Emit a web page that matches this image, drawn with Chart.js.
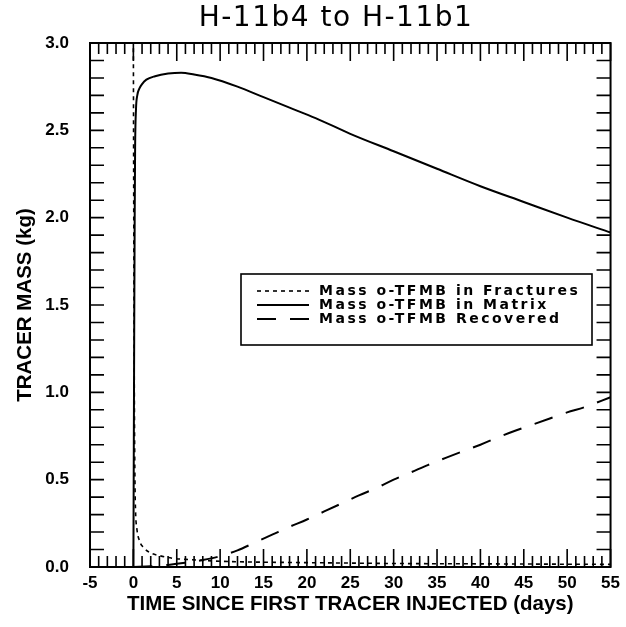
<!DOCTYPE html>
<html>
<head>
<meta charset="utf-8">
<script src="https://cdn.jsdelivr.net/npm/chart.js@4.4.1/dist/chart.umd.min.js"></script>
<style>
  html, body { margin: 0; padding: 0; background: #fff; }
  canvas { display: block; }
</style>
</head>
<body>
<canvas id="c" width="626" height="627"></canvas>
<script>
// Text
const chartTitle = 'H-11b4 to H-11b1';
const xTitle = 'TIME SINCE FIRST TRACER INJECTED (days)';
const yTitle = 'TRACER MASS (kg)';
const seriesNames = ['Mass o-TFMB in Fractures', 'Mass o-TFMB in Matrix', 'Mass o-TFMB Recovered'];

// Mass of tracer left in the fractures (kg)
const fracDays = [0, 0.03, 0.07, 0.12, 0.18, 0.25, 0.4, 0.7, 1.2, 2, 3, 4.5, 6.5, 9, 12, 16, 22, 30, 40, 55];
const fracMass = [2.97, 2.3, 1.5, 0.9, 0.5, 0.32, 0.22, 0.15, 0.11, 0.08, 0.065, 0.05, 0.042, 0.035, 0.03, 0.027, 0.024, 0.02, 0.018, 0.015];

// Mass of tracer diffused into the matrix (kg)
const matrixDays = [0, 0.05, 0.1, 0.15, 0.2, 0.3, 0.45, 0.7, 1.0, 1.5, 2.5, 4, 5.5, 7, 9, 12, 15, 18, 21, 25, 30, 35, 40, 45, 50, 55];
const matrixMass = [0, 0.7, 1.4, 2.0, 2.4, 2.62, 2.7, 2.74, 2.765, 2.79, 2.81, 2.825, 2.83, 2.82, 2.8, 2.75, 2.69, 2.63, 2.57, 2.48, 2.38, 2.28, 2.18, 2.09, 2.0, 1.915];

// Cumulative mass recovered at the pumping well (kg)
const recDays = [0, 2, 4, 6, 8, 10, 12, 14, 16, 18, 20, 22, 24, 26, 28, 30, 32, 34, 36, 38, 40, 42, 44, 46, 48, 50, 52, 55];
const recMass = [0, 0.004, 0.012, 0.024, 0.04, 0.062, 0.095, 0.14, 0.185, 0.23, 0.272, 0.318, 0.364, 0.41, 0.452, 0.5, 0.542, 0.585, 0.625, 0.663, 0.7, 0.742, 0.78, 0.815, 0.85, 0.885, 0.915, 0.972];

// Axis ranges and tick steps
const xRange = [-5, 55];
const yRange = [0, 3];
const xMajorStep = 5, xMinorStep = 1;
const yMajorStep = 0.5, yMinorStep = 0.1;

const toPoints = (xs, ys) => xs.map((d, i) => ({ x: d, y: ys[i] }));

// Frame, inward ticks, title and boxed legend
const framePlugin = {
  id: 'frame',
  beforeDraw(chart) {
    const { ctx, width, height } = chart;
    ctx.save();
    ctx.fillStyle = '#fff';
    ctx.fillRect(0, 0, width, height);
    ctx.restore();
  },
  afterDraw(chart) {
    const { ctx, chartArea: a, scales: { x, y } } = chart;
    ctx.save();
    ctx.strokeStyle = '#000';
    ctx.fillStyle = '#000';

    // inward ticks on all four sides
    ctx.lineWidth = 1.6;
    ctx.beginPath();
    const nx = Math.round((xRange[1] - xRange[0]) / xMinorStep);
    for (let i = 0; i <= nx; i++) {
      const v = xRange[0] + i * xMinorStep;
      const px = x.getPixelForValue(v);
      const len = (i % Math.round(xMajorStep / xMinorStep) === 0) ? 18 : 11;
      ctx.moveTo(px, a.bottom); ctx.lineTo(px, a.bottom - len);
      ctx.moveTo(px, a.top); ctx.lineTo(px, a.top + len);
    }
    const ny = Math.round((yRange[1] - yRange[0]) / yMinorStep);
    for (let i = 0; i <= ny; i++) {
      const v = yRange[0] + i * yMinorStep;
      const py = y.getPixelForValue(v);
      ctx.moveTo(a.left, py); ctx.lineTo(a.left + 14, py);
      ctx.moveTo(a.right, py); ctx.lineTo(a.right - 14, py);
    }
    ctx.stroke();

    // frame
    ctx.lineWidth = 2;
    ctx.strokeRect(a.left, a.top, a.right - a.left, a.bottom - a.top);

    // title
    ctx.font = 'normal 28px "DejaVu Sans"';
    if ('letterSpacing' in ctx) ctx.letterSpacing = '1.5px';
    ctx.textAlign = 'center';
    ctx.textBaseline = 'middle';
    ctx.fillText(chartTitle, 336, 19);

    // legend box
    const box = { left: 241, top: 274, right: 592, bottom: 345 };
    ctx.fillStyle = '#fff';
    ctx.fillRect(box.left, box.top, box.right - box.left, box.bottom - box.top);
    ctx.lineWidth = 1.6;
    ctx.strokeRect(box.left, box.top, box.right - box.left, box.bottom - box.top);
    ctx.fillStyle = '#000';
    ctx.font = 'bold 14px "DejaVu Sans"';
    if ('letterSpacing' in ctx) ctx.letterSpacing = '2.5px';
    ctx.textAlign = 'left';
    ctx.textBaseline = 'middle';
    chart.data.datasets.forEach((ds, i) => {
      const ry = 291 + i * 14;
      ctx.save();
      ctx.lineWidth = ds.borderWidth;
      ctx.setLineDash(ds.borderDash || []);
      ctx.beginPath();
      ctx.moveTo(257, ry);
      ctx.lineTo(309, ry);
      ctx.stroke();
      ctx.restore();
      ctx.fillText(ds.label, 319, ry);
    });
    ctx.restore();
  }
};

new Chart(document.getElementById('c'), {
  type: 'line',
  data: {
    datasets: [
      { label: seriesNames[0], data: toPoints(fracDays, fracMass), borderColor: '#000', borderWidth: 1.6, borderDash: [4, 4], pointRadius: 0, fill: false, cubicInterpolationMode: 'monotone' },
      { label: seriesNames[1], data: toPoints(matrixDays, matrixMass), borderColor: '#000', borderWidth: 2, borderDash: [], pointRadius: 0, fill: false, cubicInterpolationMode: 'monotone' },
      { label: seriesNames[2], data: toPoints(recDays, recMass), borderColor: '#000', borderWidth: 2, borderDash: [19, 14], pointRadius: 0, fill: false, cubicInterpolationMode: 'monotone' }
    ]
  },
  options: {
    responsive: false,
    devicePixelRatio: 1,
    animation: false,
    layout: { padding: { left: 0, right: 13, top: 43, bottom: 0 } },
    plugins: { legend: { display: false }, title: { display: false }, tooltip: { enabled: false } },
    scales: {
      x: {
        type: 'linear', min: xRange[0], max: xRange[1],
        grid: { display: false, drawTicks: false }, border: { display: false },
        ticks: { stepSize: xMajorStep, padding: 6, color: '#000', maxRotation: 0, autoSkip: false,
                 font: { family: 'Liberation Sans', size: 17, weight: 'bold' } },
        title: { display: true, text: xTitle, color: '#000', padding: { top: 0, bottom: 10 },
                 font: { family: 'Liberation Sans', size: 20.5, weight: 'bold' } },
        afterFit(s) { s.height = 60; }
      },
      y: {
        type: 'linear', min: yRange[0], max: yRange[1],
        grid: { display: false, drawTicks: false }, border: { display: false },
        ticks: { stepSize: yMajorStep, padding: 21, color: '#000',
                 font: { family: 'Liberation Sans', size: 17, weight: 'bold' },
                 callback: v => Number(v).toFixed(1) },
        title: { display: true, text: yTitle, color: '#000', padding: { top: 13, bottom: 0 },
                 font: { family: 'Liberation Sans', size: 20.5, weight: 'bold' } },
        afterFit(s) { s.width = 90; }
      }
    }
  },
  plugins: [framePlugin]
});
</script>
</body>
</html>
